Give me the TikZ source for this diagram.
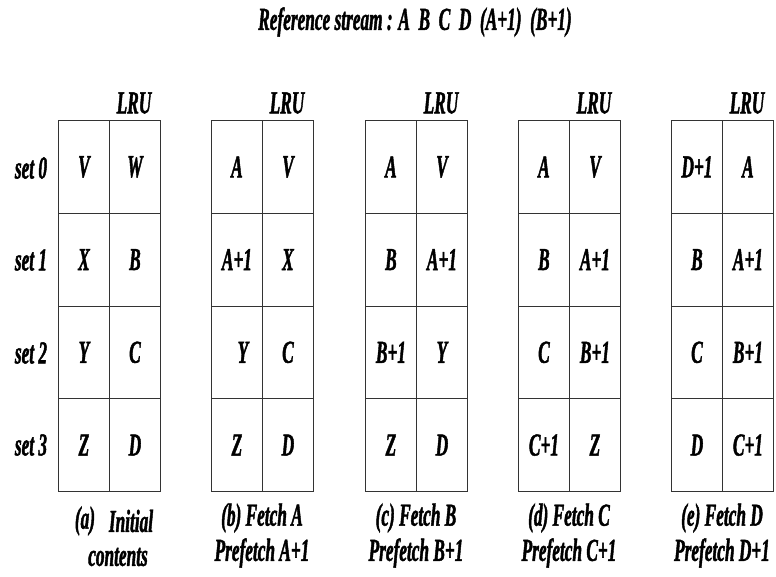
\documentclass[tikz,border=0pt]{standalone}
\usepackage{fontspec}
\newfontfamily\cf{Liberation Serif Bold Italic}[FakeStretch=0.54,FakeBold=1.3]
\begin{document}
\begin{tikzpicture}[x=1pt,y=-1pt,
  every node/.style={font=\fontsize{32}{34}\cf, inner sep=0pt},
  cell/.style={draw=black!80, line width=0.9pt, minimum width=51pt, minimum height=92.75pt, anchor=north west},
  lbl/.style={anchor=center}]
\useasboundingbox (0,0) rectangle (776,577);
\node[lbl] (title) at (415,22) {Reference stream : A\ \ B\ \ C\ \ D\ \ (A+1)\ \ (B+1)};
% set labels
\node[lbl] (s0) at (31,168) {set 0};
\node[lbl] (s1) at (31,260) {set 1};
\node[lbl] (s2) at (31,353) {set 2};
\node[lbl] (s3) at (31,445) {set 3};
% grids
\foreach \g/\lx/\a/\b/\c/\d/\e/\f/\gg/\h in {
  a/58/V/W/X/B/Y/C/Z/D,
  b/211/A/V/A+1/X/\hspace{12pt}Y/C/Z/D,
  c/365/A/V/B/A+1/B+1/Y/Z/D,
  d/518/A/V/B/A+1/C/B+1/C+1/Z,
  e/671/D+1/A/B/A+1/C/B+1/D/C+1}{
  \node[cell] (\g00) at (\lx,120) {\a};
  \node[cell] (\g01) at (\lx+51,120) {\b};
  \node[cell] (\g10) at (\lx,212.75) {\c};
  \node[cell] (\g11) at (\lx+51,212.75) {\d};
  \node[cell] (\g20) at (\lx,305.5) {\e};
  \node[cell] (\g21) at (\lx+51,305.5) {\f};
  \node[cell] (\g30) at (\lx,398.25) {\gg};
  \node[cell] (\g31) at (\lx+51,398.25) {\h};
  \node[lbl] (lru\g) at (\lx+76,103) {LRU};
}
% captions
\node[lbl] (capa1) at (85,521) {(a)};
\node[lbl] (capa2) at (131,521) {Initial};
\node[lbl] (capa3) at (118,557) {contents};
\node[lbl] (capb1) at (262,518) {(b) Fetch A};
\node[lbl] (capb2) at (262,553) {Prefetch A+1};
\node[lbl] (capc1) at (416,518) {(c) Fetch B};
\node[lbl] (capc2) at (416,553) {Prefetch B+1};
\node[lbl] (capd1) at (569,518) {(d) Fetch C};
\node[lbl] (capd2) at (569,553) {Prefetch C+1};
\node[lbl] (cape1) at (722,518) {(e) Fetch D};
\node[lbl] (cape2) at (722,553) {Prefetch D+1};
\end{tikzpicture}
\end{document}
